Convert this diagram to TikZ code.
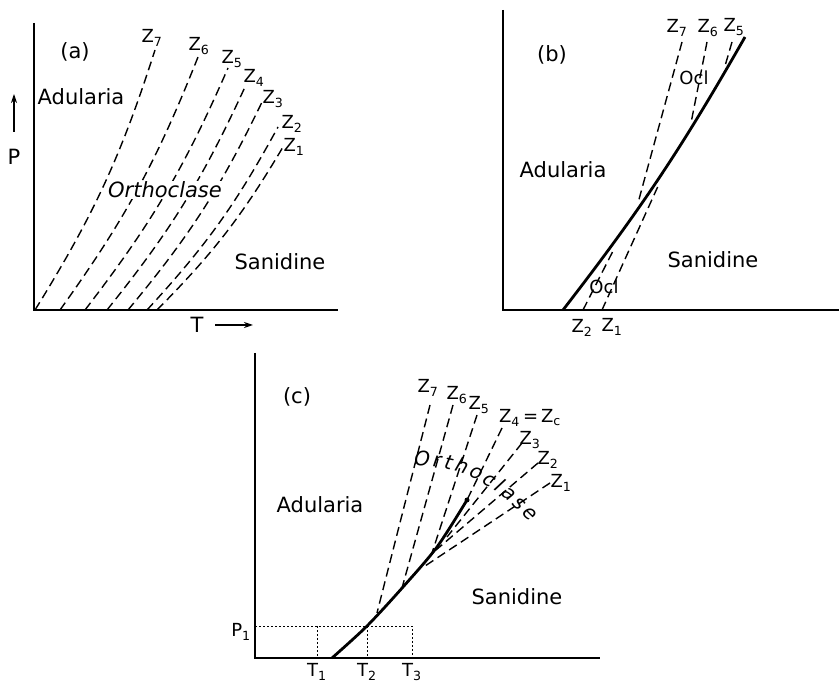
\documentclass[tikz,border=0pt]{standalone}
\usepackage{fontspec}
\setmainfont{DejaVu Sans}
\usetikzlibrary{arrows.meta,decorations.text}

\tikzset{
  axis/.style={line width=1.2pt},
  zline/.style={line width=1.4pt, dash pattern=on 9pt off 5pt},
  phase/.style={line width=2.8pt},
  guide/.style={line width=0.7pt, dash pattern=on 2pt off 2pt},
  lbl/.style={font=\fontsize{21}{24}\selectfont, inner sep=1pt},
  zlbl/.style={font=\fontsize{18}{20}\selectfont, inner sep=0pt},
}

\begin{document}
\begin{tikzpicture}[x=1pt,y=-1pt]
\useasboundingbox (0,0) rectangle (839,684);

% (a)
\draw[axis] (34,23) -- (34,310) -- (338,310);
\draw[axis,-{Stealth[length=9pt,width=6pt]}] (14,132) -- (14,94);
\node[lbl] (pa) at (14,157) {P};
\node[lbl] (ta) at (197,325) {T};
\draw[axis,-{Stealth[length=9pt,width=6pt]}] (215,325) -- (253,325);
\foreach \b/\tx/\ty/\lx/\ly/\i in {35/155/50/152/38/7, 60/198/57/199/46/6,
    85/228/68/232/59/5, 107/245/87/254/78/4, 128/263/100/273/99/3,
    147/278/127/292/124/2, 157/283/147/294/147/1}
  \draw[zline] (\b,310) to[bend right=7] (\tx,\ty)
    node[zlbl] (za\i) at (\lx,\ly) {Z\textsubscript{\i}};
\node[lbl] (laba) at (75,52) {(a)};
\node[lbl] (adula) at (81,97) {Adularia};
\node[lbl, fill=white, font=\fontsize{21}{24}\selectfont\itshape] (ortha) at (165,190) {Orthoclase};
\node[lbl] (sanida) at (280,262) {Sanidine};

% (b)
\draw[axis] (503,10) -- (503,310) -- (839,310);
\draw[phase] (563,310) to[bend right=4] (745,37);
\draw[zline] (682,42) -- (638,203);
\draw[zline] (707,42) -- (691,123);
\draw[zline] (732,42) -- (725,66);
\draw[zline] (583,310) -- (613,251);
\draw[zline] (602,310) -- (659,184);
\node[zlbl] (zb7) at (677,28) {Z\textsubscript{7}};
\node[zlbl] (zb6) at (708,28) {Z\textsubscript{6}};
\node[zlbl] (zb5) at (734,27) {Z\textsubscript{5}};
\node[zlbl] (zb2) at (582,328) {Z\textsubscript{2}};
\node[zlbl] (zb1) at (612,327) {Z\textsubscript{1}};
\node[zlbl] (oclb1) at (694,78) {Ocl};
\node[zlbl] (oclb2) at (604,287) {Ocl};
\node[lbl] (labb) at (552,55) {(b)};
\node[lbl] (adulb) at (563,170) {Adularia};
\node[lbl] (sanidb) at (713,260) {Sanidine};

% (c)
\draw[axis] (255,353) -- (255,658) -- (600,658);
\draw[guide] (255,626) -- (412,626) -- (412,658);
\draw[guide] (317,626) -- (317,658);
\draw[guide] (367,626) -- (367,658);
\draw[phase] plot[smooth] coordinates {(332,658) (367,626) (403,587) (437,547) (467,500)};
\fill (467,500) circle (2.5pt);
\foreach \tx/\ty/\ex/\ey in {430/405/377/613, 453/405/402/588, 477/415/432/553,
    502/428/467/500, 522/443/447/537, 538/463/436/550, 550/483/425/566}
  \draw[zline] (\tx,\ty) -- (\ex,\ey);
\node[zlbl] (zc7) at (428,388) {Z\textsubscript{7}};
\node[zlbl] (zc6) at (457,395) {Z\textsubscript{6}};
\node[zlbl] (zc5) at (479,405) {Z\textsubscript{5}};
\node[zlbl] (zc4) at (530,418) {Z\textsubscript{4}\,=\,Z\textsubscript{c}};
\node[zlbl] (zc3) at (530,440) {Z\textsubscript{3}};
\node[zlbl] (zc2) at (548,460) {Z\textsubscript{2}};
\node[zlbl] (zc1) at (561,483) {Z\textsubscript{1}};
\path[decorate, decoration={text along path, text align=fit to path,
    text format delimiters={|}{|},
    text={|\fontsize{20}{24}\selectfont\itshape|Orthoclase}}]
  (414,466) .. controls (455,466) and (485,476) .. (530,522);
\node[lbl] (labc) at (297,397) {(c)};
\node[lbl] (adulc) at (320,505) {Adularia};
\node[lbl] (sanidc) at (517,597) {Sanidine};
\node[zlbl] (p1) at (241,632) {P\textsubscript{1}};
\node[zlbl] (t1) at (317,672) {T\textsubscript{1}};
\node[zlbl] (t2) at (367,672) {T\textsubscript{2}};
\node[zlbl] (t3) at (412,672) {T\textsubscript{3}};
\end{tikzpicture}
\end{document}
